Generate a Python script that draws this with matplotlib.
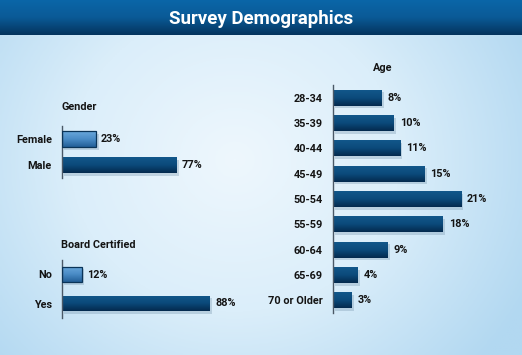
import matplotlib
matplotlib.use("Agg")
import matplotlib.pyplot as plt
import matplotlib.patheffects as pe
from matplotlib.colors import LinearSegmentedColormap
import numpy as np

gender_labels = ["Female", "Male"]
gender_values = [23, 77]

board_labels = ["No", "Yes"]
board_values = [12, 88]

age_labels = ["28-34", "35-39", "40-44", "45-49", "50-54", "55-59", "60-64", "65-69", "70 or Older"]
age_values = [8, 10, 11, 15, 21, 18, 9, 4, 3]

W, H = 522, 355
LABEL_FONT = ["Roboto", "DejaVu Sans"]
FS = 7.8

dark_cmap = LinearSegmentedColormap.from_list("dark", ["#042a4e", "#0b4a7a", "#12578a"])
light_cmap = LinearSegmentedColormap.from_list("light", ["#235f98", "#4a8cc6", "#6aa8dc"])


def px_axes(fig, left, top, width, height):
    return fig.add_axes([left / W, 1 - (top + height) / H, width / W, height / H])


def draw_panel(ax, labels, values, xmax, bar_h, light_first=False, fmt="{}%"):
    y = np.arange(len(labels))
    bars = ax.barh(y, values, height=bar_h, color="none", edgecolor="none")
    for i, bar in enumerate(bars):
        light = light_first and i == 0
        cmap = light_cmap if light else dark_cmap
        x0, y0 = bar.get_x(), bar.get_y()
        w, h = bar.get_width(), bar.get_height()
        # soft shadow
        sh = plt.Rectangle((x0, y0), w, h, facecolor="#000000", alpha=0.0,
                           path_effects=[pe.SimplePatchShadow(offset=(2, -2), shadow_rgbFace="#7a98b0", alpha=0.35)])
        ax.add_patch(sh)
        grad = np.linspace(0, 1, 64).reshape(-1, 1)
        im = ax.imshow(grad, aspect="auto", cmap=cmap, origin="lower",
                       extent=(x0, x0 + w, y0 + h, y0), zorder=2)
        im.set_clip_path(bar)
        if light:
            ax.add_patch(plt.Rectangle((x0, y0), w, h, facecolor="none",
                                       edgecolor="#0a3458", linewidth=0.9, zorder=3))
        ax.text(w + xmax * 0.035, i, fmt.format(values[i]), va="center", ha="left",
                fontsize=FS, fontweight="bold", family=LABEL_FONT, color="#141414")
    ax.set_xlim(0, xmax)
    ax.set_ylim(len(labels) - 0.5, -0.5)
    ax.set_yticks(y)
    ax.set_yticklabels(labels, fontsize=FS, fontweight="bold", family=LABEL_FONT, color="#141414")
    ax.tick_params(axis="y", length=0, pad=7)
    ax.set_xticks([])
    for s in ["top", "right", "bottom"]:
        ax.spines[s].set_visible(False)
    ax.spines["left"].set_color("#4a5866")
    ax.spines["left"].set_linewidth(1.0)
    ax.patch.set_alpha(0)


def main():
    fig = plt.figure(figsize=(W / 100, H / 100), dpi=100)

    # background gradient
    bg = fig.add_axes([0, 0, 1, 1])
    xx, yy = np.meshgrid(np.linspace(-1, 1, 300), np.linspace(-1, 1, 200))
    r = np.sqrt(((xx + 0.1) * 0.95) ** 2 + ((yy - 0.1) * 0.7) ** 2)
    bg_cmap = LinearSegmentedColormap.from_list("bg", ["#eef7fd", "#dbeefa", "#b2d8f1"])
    bg.imshow(np.clip(r, 0, 1.2), cmap=bg_cmap, aspect="auto", extent=(0, 1, 0, 1), origin="lower")
    bg.set_axis_off()

    # title bar
    tb = px_axes(fig, 0, 0, W, 35)
    tb_cmap = LinearSegmentedColormap.from_list("tb", ["#04345e", "#0a5a96", "#0b66a8"])
    tb.imshow(np.linspace(0, 1, 50).reshape(-1, 1), cmap=tb_cmap, aspect="auto",
              extent=(0, 1, 0, 1), origin="lower")
    tb.set_axis_off()
    tb.text(0.5, 0.47, "Survey Demographics", ha="center", va="center", color="white",
            fontsize=13.5, fontweight="bold", family=["Roboto", "DejaVu Sans"], transform=tb.transAxes)

    # gender
    ax1 = px_axes(fig, 61.5, 126, 149, 52)
    draw_panel(ax1, gender_labels, gender_values, 100, 0.6, light_first=True)
    fig.text(61 / W, 1 - 107 / H, "Gender", fontsize=FS, fontweight="bold", family=LABEL_FONT,
             color="#141414", va="center")

    # board certified
    ax2 = px_axes(fig, 61.5, 260, 168, 58)
    draw_panel(ax2, board_labels, board_values, 100, 0.55, light_first=True)
    fig.text(61 / W, 1 - 245 / H, "Board Certified", fontsize=FS, fontweight="bold", family=LABEL_FONT,
             color="#141414", va="center")

    # age
    ax3 = px_axes(fig, 332.5, 85, 183, 228)
    draw_panel(ax3, age_labels, age_values, 30, 0.63)
    fig.text(383 / W, 1 - 68 / H, "Age", fontsize=FS, fontweight="bold", family=LABEL_FONT,
             color="#141414", va="center", ha="center")

    fig.savefig("out.png", dpi=100)


if __name__ == "__main__":
    main()
